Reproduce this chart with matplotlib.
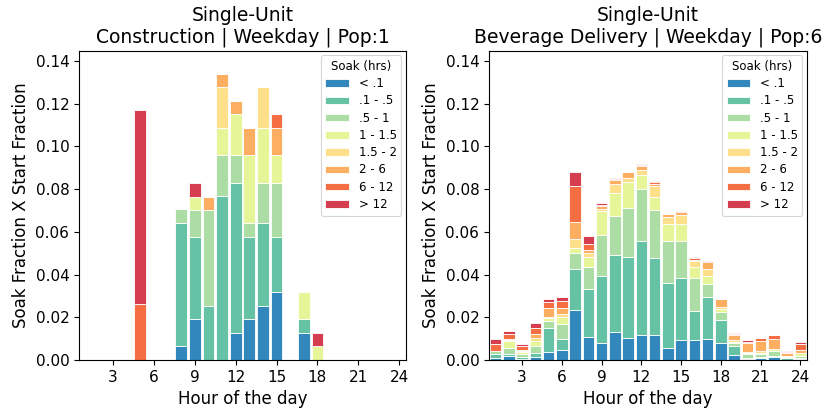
import numpy as np
import matplotlib
matplotlib.use('Agg')
import matplotlib.pyplot as plt
from matplotlib.ticker import FormatStrFormatter

# Hours of the day (x axis) and soak-time bins (stack order, bottom to top)
hours = np.arange(1, 25)
soak_bins = ['< .1', '.1 - .5', '.5 - 1', '1 - 1.5', '1.5 - 2', '2 - 6', '6 - 12', '> 12']
hour_ticks = [3, 6, 9, 12, 15, 18, 21, 24]

# Construction | Weekday | Pop:1  -- one list per soak bin, hours 1..24
con_lt01 = [0, 0, 0, 0, 0, 0, 0, 0.0065, 0.019, 0, 0, 0.0128, 0.019, 0.0255, 0.032, 0, 0.0128, 0, 0, 0, 0, 0, 0, 0]
con_01_05 = [0, 0, 0, 0, 0, 0, 0, 0.0575, 0.0384, 0.0255, 0.0767, 0.0702, 0.0384, 0.0385, 0.0254, 0, 0.0062, 0, 0, 0, 0, 0, 0, 0]
con_05_1 = [0, 0, 0, 0, 0, 0, 0, 0.0065, 0.0126, 0.0445, 0.019, 0.0127, 0.0066, 0.019, 0.0256, 0, 0, 0, 0, 0, 0, 0, 0, 0]
con_1_15 = [0, 0, 0, 0, 0, 0, 0, 0, 0.0065, 0, 0.0127, 0.0193, 0.0317, 0.0254, 0.0127, 0, 0.013, 0.0064, 0, 0, 0, 0, 0, 0]
con_15_2 = [0, 0, 0, 0, 0, 0, 0, 0, 0, 0, 0.0192, 0, 0, 0.0192, 0, 0, 0, 0, 0, 0, 0, 0, 0, 0]
con_2_6 = [0, 0, 0, 0, 0, 0, 0, 0, 0, 0.0065, 0.0062, 0.0063, 0.0127, 0, 0.0127, 0, 0, 0, 0, 0, 0, 0, 0, 0]
con_6_12 = [0, 0, 0, 0, 0.026, 0, 0, 0, 0, 0, 0, 0, 0, 0, 0.0066, 0, 0, 0, 0, 0, 0, 0, 0, 0]
con_gt12 = [0, 0, 0, 0, 0.091, 0, 0, 0, 0.0065, 0, 0, 0, 0, 0, 0, 0, 0, 0.0064, 0, 0, 0, 0, 0, 0]

# Beverage Delivery | Weekday | Pop:6
bev_lt01 = [0.0008, 0.0019, 0.0006, 0.0012, 0.0039, 0.0047, 0.0235, 0.0108, 0.008, 0.013, 0.0105, 0.0117,
            0.0117, 0.0058, 0.0094, 0.0092, 0.01, 0.0081, 0.0023, 0.0006, 0.0008, 0.0015, 0.0002, 0.0005]
bev_01_05 = [0.0019, 0.001, 0.0007, 0.0022, 0.0111, 0.005, 0.0191, 0.0225, 0.0311, 0.036, 0.0376, 0.0441,
             0.036, 0.0302, 0.029, 0.0139, 0.0194, 0.0106, 0.0044, 0.0005, 0.0004, 0.0005, 0.0006, 0.0006]
bev_05_1 = [0.0013, 0.0025, 0.0016, 0.0031, 0.0031, 0.007, 0.0077, 0.0102, 0.0192, 0.0183, 0.0232, 0.0243,
            0.0224, 0.0199, 0.0172, 0.0152, 0.0061, 0.0039, 0.0011, 0.0015, 0.0017, 0.002, 0.0004, 0.0009]
bev_1_15 = [0, 0.0035, 0.0007, 0.0025, 0.0014, 0.0036, 0.0022, 0.0047, 0.0116, 0.011, 0.0122, 0.0063,
            0.0063, 0.0078, 0.0081, 0.005, 0.0039, 0.0011, 0.0008, 0.0005, 0.0006, 0.001, 0.0006, 0.0011]
bev_15_2 = [0, 0.0005, 0.0005, 0.0011, 0.0008, 0.0011, 0.0039, 0.0019, 0.0009, 0.0042, 0.0016, 0.0023,
            0.0052, 0.0031, 0.0041, 0.0028, 0.0033, 0.0013, 0.0008, 0.0008, 0.0007, 0.0003, 0.0003, 0]
bev_2_6 = [0, 0.0004, 0.0008, 0.0023, 0.0042, 0.0031, 0.0083, 0.0013, 0.0011, 0.0017, 0.0031, 0.0019,
           0.0008, 0.0013, 0.0014, 0.0008, 0.0031, 0.0036, 0.0022, 0.0039, 0.0046, 0.0044, 0.001, 0.0016]
bev_6_12 = [0.0036, 0.0023, 0.0016, 0.0027, 0.0027, 0.0033, 0.0167, 0.0027, 0.0008, 0.0006, 0, 0.0005,
            0.0008, 0.0004, 0, 0.0009, 0, 0, 0.0006, 0.0006, 0.0017, 0.0022, 0.0008, 0.0027]
bev_gt12 = [0.0022, 0.0016, 0.0012, 0.0023, 0.0012, 0.0016, 0.0067, 0.0041, 0.0009, 0.0006, 0, 0.0008,
            0.0005, 0, 0.0005, 0.0005, 0.0005, 0, 0.0006, 0.0008, 0, 0, 0.0005, 0.0009]

construction = [con_lt01, con_01_05, con_05_1, con_1_15, con_15_2, con_2_6, con_6_12, con_gt12]
beverage = [bev_lt01, bev_01_05, bev_05_1, bev_1_15, bev_15_2, bev_2_6, bev_6_12, bev_gt12]

# ColorBrewer Spectral (8 classes), reversed: short soaks blue, long soaks red
colors = ['#3288bd', '#66c2a5', '#abdda4', '#e6f598', '#fee08b', '#fdae61', '#f46d43', '#d53e4f']

fig = plt.figure(figsize=(8.22, 4.08), dpi=100)
ax1 = fig.add_axes([0.0961, 0.1176, 0.3978, 0.7585])
ax2 = fig.add_axes([0.5949, 0.1176, 0.3869, 0.7585])


def stacked_bars(ax, layers, title):
    bottom = np.zeros(len(hours))
    for vals, lab, col in zip(layers, soak_bins, colors):
        vals = np.array(vals)
        ax.bar(hours, vals, width=0.86, bottom=bottom, color=col,
               edgecolor='white', linewidth=0.6, label=lab)
        bottom += vals
    ax.set_xlim(0.5, 24.5)
    ax.set_ylim(0, 0.1448)
    ax.set_xticks(hour_ticks)
    ax.set_yticks(np.arange(0, 0.141, 0.02))
    ax.yaxis.set_major_formatter(FormatStrFormatter('%.2f'))
    ax.tick_params(labelsize=11)
    ax.set_xlabel('Hour of the day', fontsize=12)
    ax.set_ylabel('Soak Fraction X Start Fraction', fontsize=12)
    ax.set_title(title, fontsize=13.5, linespacing=1.12)
    leg = ax.legend(title='Soak (hrs)', loc='upper right', fontsize=8.5,
                    title_fontsize=8.5, handlelength=2.0, handleheight=0.6,
                    labelspacing=0.36, borderaxespad=0.4)
    leg.get_frame().set_linewidth(0.8)


stacked_bars(ax1, construction, 'Single-Unit\nConstruction | Weekday | Pop:1')
stacked_bars(ax2, beverage, 'Single-Unit\nBeverage Delivery | Weekday | Pop:6')

fig.savefig('out.png', dpi=100)
